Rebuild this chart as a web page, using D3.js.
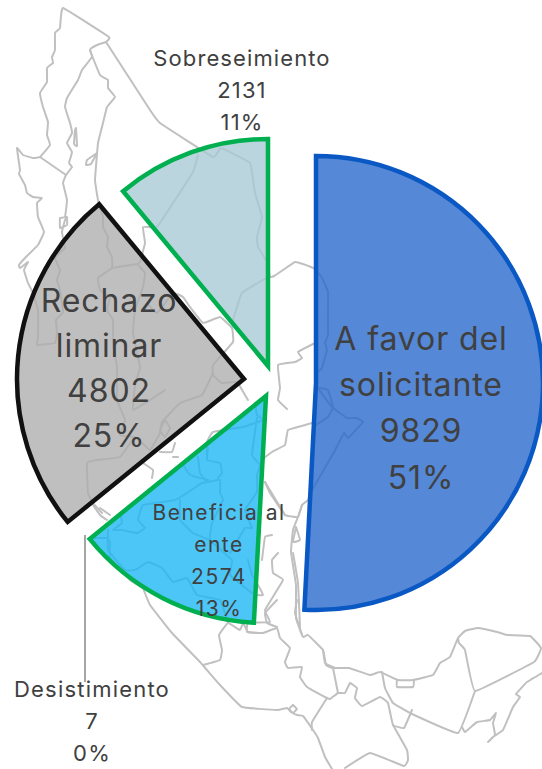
<!DOCTYPE html>
<html><head><meta charset="utf-8">
<script src="https://cdn.jsdelivr.net/npm/d3@7"></script>
<style>html,body{margin:0;padding:0;background:#fff}svg{display:block}</style>
</head><body><div id="c"></div>
<script>
// ---------- data ----------
const categories = ["A favor del solicitante","Desistimiento","Beneficial ente","Rechazo liminar","Sobreseimiento"];
const values = [9829,7,2574,4802,2131];
const percentLabels = ["51%","0%","13%","25%","11%"];
const labelLines = [["A favor del","solicitante"],["Desistimiento"],["Beneficia al","ente"],["Rechazo","liminar"],["Sobreseimiento"]];

// ---------- styling / layout ----------
const W=542,H=769, radius=227, center=[280,382];
const fills   = ["#2567cb","#1ab6f5","#1ab6f5","#adadad","#a7c9d4"];
const strokes = ["#0a58c4","none","#00b050","#111111","#00b050"];
const explode = [[36,1],[-14,14],[-14,14],[-36,-3],[-12,-16]];
// x, first baseline, line step, font size, letter spacing
const labelPos = [[421,350,46.2,32,0.9],[92,697,32,22,1.2],[219,520,32,21,1.5],[109,312,45,32,0.9],[242,66,32,22,1.1]];
const textFont = "Inter, 'Open Sans', sans-serif";

// background map outline (decorative traced line work)
const mapOutlines = [
 // Baja west coast, tip, north border
 [[106,42],[109,37],[63,8],[60,28],[55,33],[55,50],[52,57],[53,63],[47,68],[47,82],[40,93],[43,107],[48,122],[47,135],[50,145],[40,157],[33,158],[23,155],[17,148],[20,170],[19,174],[25,185],[27,193],[33,197],[42,198],[37,203],[38,217],[44,232],[38,245],[25,258],[19,265],[20,268],[28,262],[24,270],[28,283],[33,293],[38,310],[38,337],[37,345],[55,343],[57,333],[56,320],[63,312],[60,290],[57,280],[60,270],[55,258],[65,248]],
 [[40,157],[66,175]],
 // gulf coast of Baja
 [[90,50],[92,57],[82,70],[78,80],[67,98],[65,107],[70,123],[72,133],[67,143],[72,152],[69,163],[72,167],[66,175],[63,183],[67,200],[65,217],[60,218],[60,228],[67,225],[67,217],[65,220],[62,232],[65,248]],
 [[76,128],[77,146],[74,144],[75,130],[76,128]],
 [[97,153],[87,160],[86,165],[91,164],[97,153]],
 // Sonora coast
 [[106,42],[97,45],[90,50],[100,75],[108,80],[108,88],[115,97],[107,107],[103,123],[98,143],[95,180],[98,200],[103,217],[103,227],[108,237],[107,247],[112,257],[112,268],[98,278],[100,290],[110,297],[107,310],[113,320],[113,345],[117,367],[117,400],[125,420],[120,435],[135,437]],
 // north border
 [[106,42],[150,110],[160,123],[213,157],[221,148],[250,163],[255,193],[262,217],[257,237],[258,247],[267,262],[270,277],[274,276],[283,270],[295,262],[303,264],[315,269],[322,278],[328,292],[328,318],[328,335],[325,343],[327,350],[322,368],[317,372]],
 // Chihuahua
 [[198,155],[193,172],[175,200],[157,227],[143,227],[145,243],[140,262],[137,264],[112,268]],
 [[138,265],[145,273],[143,287],[135,310],[133,333],[140,367],[135,385],[133,410],[150,400],[165,390]],
 [[147,303],[157,313],[173,293],[183,297],[190,307],[203,323],[220,317],[232,328],[233,342],[213,365],[213,375],[222,383],[237,382],[245,395],[248,400]],
 [[233,320],[242,293],[268,277]],
 [[213,373],[202,395],[180,403],[162,422],[160,433],[150,450],[135,437],[120,457],[97,460],[87,463],[88,493],[93,503],[102,513]],
 [[165,420],[170,428],[165,437],[160,430],[165,420]],
 [[143,463],[153,470],[152,478]],[[160,452],[172,452],[175,443]],[[173,457],[178,457]],
 [[93,505],[100,515],[107,520]],[[100,508],[110,515]],
 // Tamaulipas + gulf coast
 [[315,343],[298,352],[302,358],[295,362],[278,365],[280,388],[278,400],[287,409]],
 [[316,425],[328,417],[333,407],[328,390],[318,388],[332,407],[347,418],[356,418],[363,422],[348,438],[344,433],[334,452],[311,492],[308,500],[302,505],[298,517],[285,515],[270,493],[265,482]],
 [[312,423],[305,425],[288,430],[285,445],[272,452],[264,458]],
 [[296,527],[293,542],[300,540],[296,527]],
 [[302,505],[298,517],[293,530],[291,552],[296,585],[296,618],[303,637],[308,635],[323,650],[326,665],[333,668],[349,668],[370,675],[380,672],[398,680],[413,680],[433,675],[440,663],[450,657],[458,638],[465,631],[478,628],[497,632],[507,635],[530,636],[541,648],[534,662],[475,691],[465,650],[459,643],[458,638]],
 [[475,691],[458,733],[412,714],[393,703],[385,688],[382,672]],
 [[412,710],[404,728],[393,725],[388,703],[380,697],[362,706],[355,698],[357,688],[350,683],[345,693],[338,693],[330,699],[327,698],[307,687],[300,677],[302,667],[288,668],[285,662],[290,648],[280,638],[277,628],[263,633],[248,632],[243,623],[240,630],[228,623],[219,635],[222,650],[220,660],[203,665]],
 [[333,668],[338,693]],
 [[393,725],[407,750],[408,760],[404,766],[370,753],[345,768]],
 [[397,680],[397,687],[413,687],[414,680]],
 [[462,727],[465,732],[477,722],[490,720],[496,713],[493,723],[495,735],[488,742],[493,737],[503,730],[513,707],[520,697],[516,694],[527,682],[542,673]],
 // Pacific coast
 [[143,588],[150,605],[172,633],[200,662],[220,685],[242,707],[277,710],[287,708],[291,712],[297,715],[303,716],[313,730],[318,738],[325,757],[332,769]],
 [[293,705],[297,709],[293,713],[289,709],[293,705]],
 [[327,698],[312,722],[312,730]],
 [[297,600],[295,613],[302,635]],[[323,650],[325,663],[335,668]],
 [[277,600],[265,613],[267,623],[277,627]],
 [[278,553],[272,560],[273,573],[283,580],[265,610],[270,622],[248,623],[247,632],[263,633]],
 // interior (behind the slices)
 [[120,513],[122,523],[113,530],[122,530],[137,533],[145,528],[138,520],[143,505],[175,500],[187,493],[202,483],[220,480],[220,493],[223,500],[212,523],[210,540],[232,560],[230,575],[252,593],[258,595],[263,595],[258,585],[252,575],[248,560]],
 [[108,530],[108,550],[125,570],[135,570],[148,562],[162,568],[173,582],[187,578],[197,595],[220,600],[228,623]],
 [[90,538],[107,538],[110,542],[110,558],[130,580],[143,588]],
 [[180,500],[180,520],[193,533],[210,540]],
 [[182,463],[190,475],[208,480]],[[208,448],[207,460],[220,463],[222,473],[218,478]],
 [[198,457],[200,473],[207,482]],[[255,403],[257,415],[263,420],[243,427],[213,432],[207,442],[207,458]],
 [[257,418],[252,455],[260,465],[257,475],[257,492],[245,510],[252,528],[245,528],[230,553]],
 [[265,482],[285,515]],[[272,535],[265,537],[262,560]],
 [[293,553],[298,583],[300,627]]
];

// ---------- drawing ----------
const svg=d3.select("#c").append("svg").attr("width",W).attr("height",H);
const line=d3.line().curve(d3.curveLinear);
const mapLine=d3.line().curve(d3.curveCardinal.tension(0.75));

svg.append("g").selectAll("path").data(mapOutlines).join("path")
  .attr("d",mapLine).attr("fill","none").attr("stroke","#c0c0c0").attr("stroke-width",2)
  .attr("stroke-linejoin","round").attr("stroke-linecap","round");

const pie=d3.pie().sort(null).value(d=>d);
const arc=d3.arc().innerRadius(0).outerRadius(radius);
svg.append("g").selectAll("path").data(pie(values)).join("path")
  .attr("d",arc)
  .attr("transform",(d,i)=>`translate(${center[0]+explode[i][0]},${center[1]+explode[i][1]})`)
  .attr("fill",(d,i)=>fills[i]).attr("fill-opacity",0.78)
  .attr("stroke",(d,i)=>strokes[i]).attr("stroke-width",4.5).attr("stroke-linejoin","miter");

// leader line for the smallest slice
svg.append("path").attr("d",line([[85,535],[85,682]])).attr("fill","none").attr("stroke","#a6a6a6").attr("stroke-width",2);

const labels=svg.append("g").attr("font-family",textFont).attr("fill","#404040").attr("text-anchor","middle");
categories.forEach((c,i)=>{
  const [x,y,dy,fs,ls]=labelPos[i];
  const lines=[...labelLines[i],String(values[i]),percentLabels[i]];
  labels.append("g").selectAll("text").data(lines).join("text")
    .attr("x",x).attr("y",(d,j)=>y+j*dy).attr("font-size",fs).attr("letter-spacing",ls).text(d=>d);
});
</script></body></html>
